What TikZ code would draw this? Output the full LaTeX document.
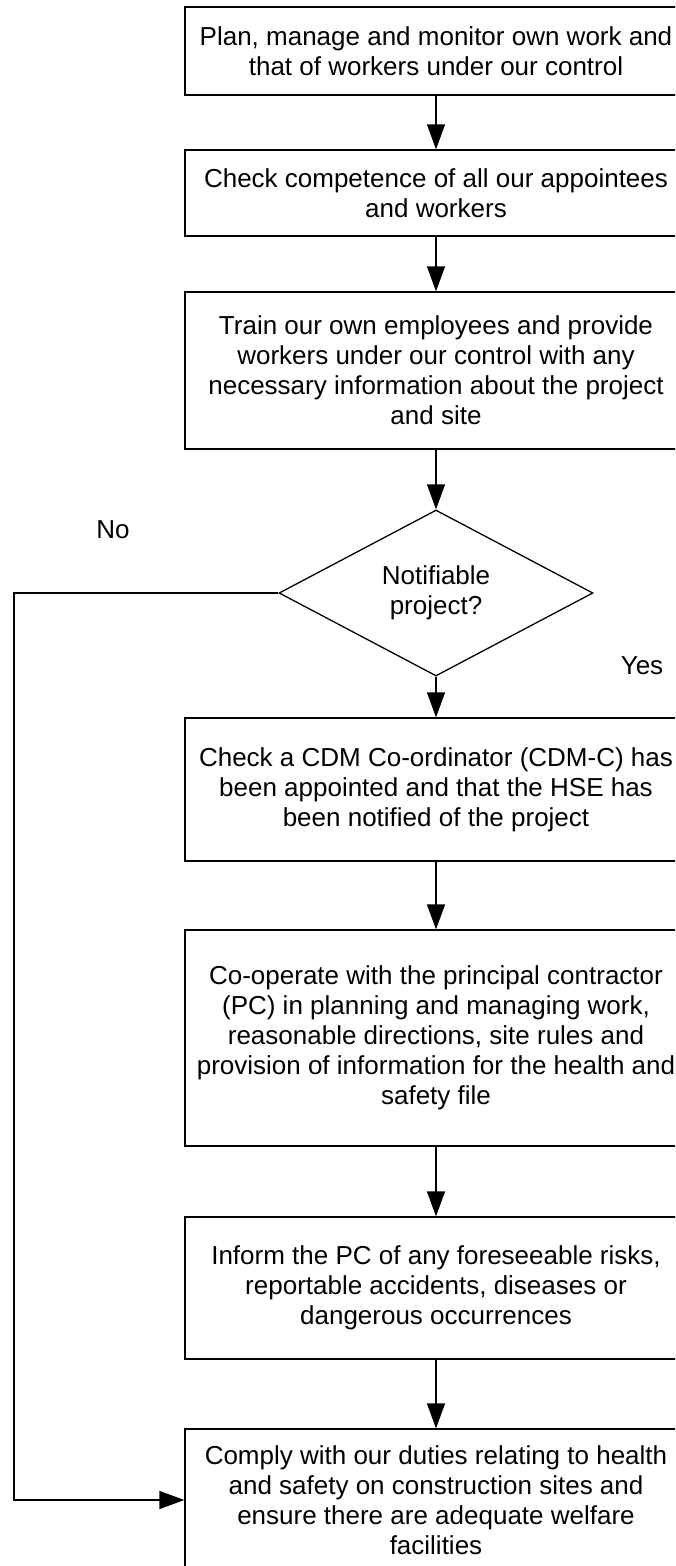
\documentclass[tikz,border=0pt]{standalone}
\usepackage{fontspec}
\setmainfont{Liberation Sans}
\usetikzlibrary{arrows.meta,shapes.geometric}
\tikzset{
  stepbox/.style={draw, line width=1.3pt, minimum width=502pt, inner sep=0pt, align=center,
    font=\fontsize{26}{30}\selectfont},
  decision/.style={draw, diamond, line width=1.3pt, minimum width=314pt, minimum height=166pt,
    aspect=1.89, inner sep=0pt, align=center, font=\fontsize{26}{30}\selectfont},
  lbl/.style={font=\fontsize{26}{30}\selectfont, inner sep=0pt},
  arr/.style={line width=1.3pt, -{Triangle[length=25pt,width=18pt]}},
}
\begin{document}
\begin{tikzpicture}[x=1pt,y=-1pt]
\useasboundingbox (0,0) rectangle (675,1566);
\clip (0,0) rectangle (675,1566);
\node[stepbox, minimum height=88pt] (b1) at (436,51) {Plan, manage and monitor own work and\\that of workers under our control};
\node[stepbox, minimum height=86pt] (b2) at (436,193) {Check competence of all our appointees\\and workers};
\node[stepbox, minimum height=157pt] (b3) at (436,370.5) {Train our own employees and provide\\workers under our control with any\\necessary information about the project\\and site};
\node[decision] (d) at (436,593) {Notifiable\\project?};
\node[stepbox, minimum height=143pt] (b4) at (436,789.5) {Check a CDM Co-ordinator (CDM-C) has\\been appointed and that the HSE has\\been notified of the project};
\node[stepbox, minimum height=216pt] (b5) at (436,1038) {Co-operate with the principal contractor\\(PC) in planning and managing work,\\reasonable directions, site rules and\\provision of information for the health and\\safety file};
\node[stepbox, minimum height=142pt] (b6) at (436,1288) {Inform the PC of any foreseeable risks,\\reportable accidents, diseases or\\dangerous occurrences};
\node[stepbox, minimum height=142pt] (b7) at (436,1500) {Comply with our duties relating to health\\and safety on construction sites and\\ensure there are adequate welfare\\facilities};
\node[lbl] (no) at (113,530) {No};
\node[lbl] (yes) at (642,666) {Yes};
\coordinate (lft) at (14,593);
\draw[arr] (b1) -- (b2);
\draw[arr] (b2) -- (b3);
\draw[arr] (b3) -- (d);
\draw[arr] (d) -- (b4);
\draw[arr] (b4) -- (b5);
\draw[arr] (b5) -- (b6);
\draw[arr] (b6) -- (b7);
\draw[arr] (d.west) -- (lft) |- (b7.west);
\end{tikzpicture}
\end{document}
